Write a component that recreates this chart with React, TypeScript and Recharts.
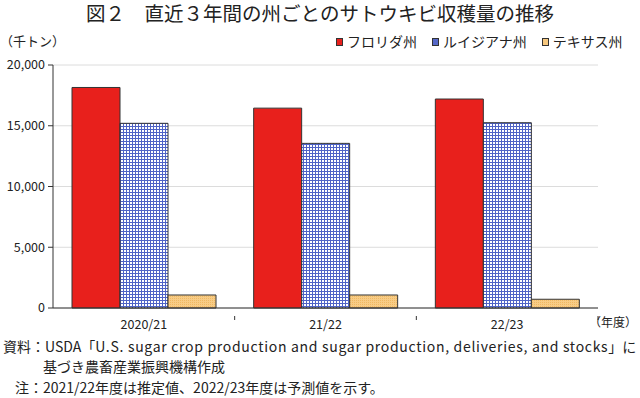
import React from 'react';
import { BarChart, Bar, XAxis, YAxis, CartesianGrid } from 'recharts';

const years = ['2020/21', '21/22', '22/23'];
const florida = [18150, 16450, 17200];
const louisiana = [15200, 13550, 15250];
const texas = [1070, 1070, 720];
const yTicks = [0, 5000, 10000, 15000, 20000];

const chartData = years.map((year, i) => ({
  year,
  florida: florida[i],
  louisiana: louisiana[i],
  texas: texas[i],
}));

const FONT = '"Noto Sans CJK JP", "Noto Sans", sans-serif';
const PLOT_W = 545;
const BAND = PLOT_W / years.length;

const legendItems = [
  { name: 'フロリダ州', fill: '#e8201c' },
  { name: 'ルイジアナ州', fill: '#5668c8' },
  { name: 'テキサス州', fill: '#f7c87e' },
];

const XTick = (props: any) => {
  const { x, y, payload, index } = props;
  const left = x - BAND / 2;
  const right = x + BAND / 2;
  return (
    <g>
      {index > 0 && <line x1={left} y1={y} x2={left} y2={y + 4} stroke="#333" />}
      {index === years.length - 1 && <line x1={right} y1={y} x2={right} y2={y + 4} stroke="#333" />}
      <text x={x} y={y + 13} textAnchor="middle" fontSize={12.5} fill="#222" fontFamily={FONT}>
        {payload.value}
      </text>
    </g>
  );
};

const noteStyle: React.CSSProperties = {
  position: 'absolute',
  fontSize: 14,
  lineHeight: '18px',
  whiteSpace: 'nowrap',
};

const App: React.FC = () => {
  return (
    <div style={{ position: 'absolute', left: 0, top: 0, width: 640, height: 398, background: '#fff', fontFamily: FONT, color: '#222', overflow: 'hidden' }}>
      <svg width={0} height={0} style={{ position: 'absolute' }}>
        <defs>
          <pattern id="grid" width={3} height={3} patternUnits="userSpaceOnUse">
            <rect width={3} height={3} fill="#ffffff" />
            <path d="M0 0.5 H3 M0.5 0 V3" stroke="#4f63c6" strokeWidth={1} />
          </pattern>
          <pattern id="dots" width={2} height={2} patternUnits="userSpaceOnUse">
            <rect width={2} height={2} fill="#f8cc86" />
            <rect width={1} height={1} fill="#efb963" />
          </pattern>
        </defs>
      </svg>

      <div style={{ position: 'absolute', top: 2, left: 80, width: 480, textAlign: 'center', fontSize: 19.5, lineHeight: '22px', whiteSpace: 'nowrap' }}>
        図２　直近３年間の州ごとのサトウキビ収穫量の推移
      </div>

      <div style={{ position: 'absolute', top: 33, left: 0, fontSize: 13, lineHeight: '16px' }}>（千トン）</div>

      <div style={{ position: 'absolute', top: 33, left: 336, display: 'flex', gap: 15, fontSize: 14, lineHeight: '17px' }}>
        {legendItems.map((item) => (
          <div key={item.name} style={{ display: 'flex', alignItems: 'center', gap: 4 }}>
            <div style={{ width: 5, height: 6, background: item.fill, border: '1px solid #333' }} />
            {item.name}
          </div>
        ))}
      </div>

      <div style={{ position: 'absolute', top: 0, left: 0 }}>
        <BarChart
          width={640}
          height={340}
          data={chartData}
          margin={{ top: 65, right: 42, bottom: 0, left: 0 }}
          barSize={48}
          barGap={0}
        >
          <CartesianGrid vertical={false} stroke="#dcdcdc" />
          <XAxis dataKey="year" height={32} tickLine={false} axisLine={{ stroke: '#333' }} tick={<XTick />} interval={0} />
          <YAxis
            width={53}
            domain={[0, 20000]}
            ticks={yTicks}
            tickSize={5}
            tickMargin={3}
            tickFormatter={(v: number) => v.toLocaleString('en-US')}
            axisLine={{ stroke: '#333' }}
            tickLine={{ stroke: '#333' }}
            tick={{ fontSize: 12.5, fill: '#222', fontFamily: FONT }}
          />
          <Bar dataKey="florida" fill="#e8201c" stroke="#333" strokeWidth={1} isAnimationActive={false} />
          <Bar dataKey="louisiana" fill="url(#grid)" stroke="#333" strokeWidth={1} isAnimationActive={false} />
          <Bar dataKey="texas" fill="url(#dots)" stroke="#333" strokeWidth={1} isAnimationActive={false} />
        </BarChart>
      </div>

      <div style={{ position: 'absolute', top: 314, left: 589, fontSize: 12, lineHeight: '16px', whiteSpace: 'nowrap' }}>（年度）</div>

      <div style={{ ...noteStyle, top: 337, left: 3 }}>
        資料：USDA「<span style={{ letterSpacing: 0.7 }}>U.S. sugar crop production and sugar production, deliveries, and stocks</span>」に
      </div>
      <div style={{ ...noteStyle, top: 357, left: 43 }}>
        基づき農畜産業振興機構作成
      </div>
      <div style={{ ...noteStyle, top: 378, left: 15 }}>
        注：2021/22年度は推定値、2022/23年度は予測値を示す。
      </div>
    </div>
  );
};

export default App;
